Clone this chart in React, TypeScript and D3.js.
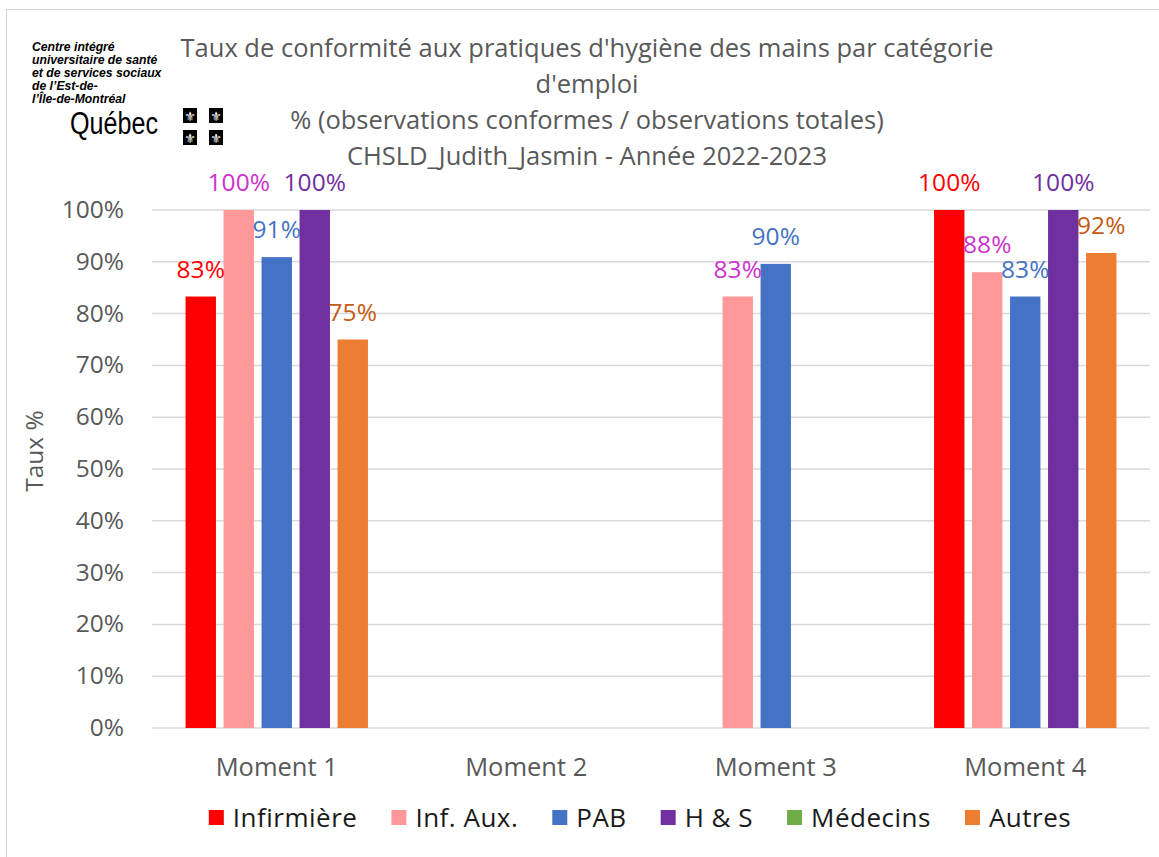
import { useRef, useEffect } from "react";
import * as d3 from "d3";

const moments = ["Moment 1", "Moment 2", "Moment 3", "Moment 4"];
const seriesNames = ["Infirmière", "Inf. Aux.", "PAB", "H & S", "Médecins", "Autres"];
const infirmiere = [83.3, null, null, 100];
const infAux = [100, null, 83.3, 88];
const pab = [90.9, null, 89.6, 83.3];
const hs = [100, null, null, 100];
const medecins = [null, null, null, null];
const autres = [75, null, null, 91.7];
const yTicks = [0, 10, 20, 30, 40, 50, 60, 70, 80, 90, 100];
const titleLines = [
  "Taux de conformité aux pratiques d'hygiène des mains par catégorie",
  "d'emploi",
  "% (observations conformes / observations totales)",
  "CHSLD_Judith_Jasmin - Année 2022-2023",
];
const logoLines = [
  "Centre intégré",
  "universitaire de santé",
  "et de services sociaux",
  "de l’Est-de-",
  "l’Île-de-Montréal",
];

const barColors = ["#ff0000", "#ff9999", "#4472c4", "#7030a0", "#70ad47", "#ed7d31"];
const labelColors = ["#ff0000", "#cc33cc", "#4472c4", "#7030a0", "#70ad47", "#c55a11"];

const width = 1159;
const height = 857;
const font = "'Open Sans', sans-serif";
const gray = "#595959";

export default function App() {
  const ref = useRef<SVGSVGElement | null>(null);

  useEffect(() => {
    const svg = d3.select(ref.current).attr("viewBox", `0 0 ${width} ${height}`);
    svg.selectAll("*").remove();

    const values = [infirmiere, infAux, pab, hs, medecins, autres];
    const series = seriesNames.map((name, i) => ({
      name,
      values: values[i],
      color: barColors[i],
      labelColor: labelColors[i],
    }));
    // Médecins has no value anywhere, so it takes no slot in the groups
    const drawn = series.filter((s) => s.values.some((v) => v != null));

    svg.append("rect").attr("width", width).attr("height", height).attr("fill", "#fff");
    svg
      .append("rect")
      .attr("x", 6.5)
      .attr("y", 9.5)
      .attr("width", width)
      .attr("height", height)
      .attr("fill", "none")
      .attr("stroke", "#d9d9d9");

    const x0 = d3.scaleBand().domain(moments).range([152, 1150]);
    const groupW = 190;
    const x1 = d3
      .scaleBand()
      .domain(drawn.map((s) => s.name))
      .range([0, groupW])
      .paddingInner(0.2)
      .paddingOuter(0.1);
    const y = d3.scaleLinear().domain([0, 100]).range([728, 210]);
    const offset = (x0.bandwidth() - groupW) / 2;

    // grid
    svg
      .append("g")
      .selectAll("line")
      .data(yTicks)
      .join("line")
      .attr("x1", 152)
      .attr("x2", 1150)
      .attr("y1", (d) => y(d))
      .attr("y2", (d) => y(d))
      .attr("stroke", "#d9d9d9")
      .attr("stroke-width", 1.5);

    svg
      .append("g")
      .selectAll("text")
      .data(yTicks)
      .join("text")
      .attr("x", 124)
      .attr("y", (d) => y(d) + 8)
      .attr("text-anchor", "end")
      .attr("font-family", font)
      .attr("font-size", 24.5)
      .attr("fill", gray)
      .text((d) => `${d}%`);

    svg
      .append("text")
      .attr("transform", "translate(43,451) rotate(-90)")
      .attr("text-anchor", "middle")
      .attr("font-family", font)
      .attr("font-size", 24.5)
      .attr("fill", gray)
      .text("Taux %");

    svg
      .append("g")
      .selectAll("text")
      .data(moments)
      .join("text")
      .attr("x", (d) => x0(d)! + x0.bandwidth() / 2)
      .attr("y", 776)
      .attr("text-anchor", "middle")
      .attr("font-family", font)
      .attr("font-size", 25.5)
      .attr("fill", gray)
      .text((d) => d);

    // bars
    const items = drawn.flatMap((s) =>
      s.values
        .map((v, i) => ({ s, v, m: moments[i] }))
        .filter((d) => d.v != null)
    );
    const gBars = svg.append("g");
    gBars
      .selectAll("rect")
      .data(items)
      .join("rect")
      .attr("x", (d) => x0(d.m)! + offset + x1(d.s.name)!)
      .attr("width", x1.bandwidth())
      .attr("y", (d) => y(d.v as number))
      .attr("height", (d) => y(0) - y(d.v as number))
      .attr("fill", (d) => d.s.color);

    gBars
      .selectAll("text")
      .data(items)
      .join("text")
      .attr("x", (d) => x0(d.m)! + offset + x1(d.s.name)! + x1.bandwidth() / 2)
      .attr("y", (d) => y(d.v as number) - 19)
      .attr("text-anchor", "middle")
      .attr("font-family", font)
      .attr("font-size", 24.5)
      .attr("fill", (d) => d.s.labelColor)
      .text((d) => `${Math.round(d.v as number)}%`);

    // title
    svg
      .append("g")
      .selectAll("text")
      .data(titleLines)
      .join("text")
      .attr("x", 587)
      .attr("y", (_, i) => 57 + i * 36)
      .attr("text-anchor", "middle")
      .attr("font-family", font)
      .attr("font-size", 25.5)
      .attr("fill", gray)
      .text((d) => d);

    // legend
    const leg = svg.append("g");
    const legItems = leg
      .selectAll("g")
      .data(series)
      .join("g");
    legItems
      .append("rect")
      .attr("y", 810)
      .attr("width", 15)
      .attr("height", 15)
      .attr("fill", (d) => d.color);
    legItems
      .append("text")
      .attr("x", 24)
      .attr("y", 827)
      .attr("font-family", font)
      .attr("font-size", 26)
      .attr("letter-spacing", 0.5)
      .attr("fill", "#1a1a1a")
      .text((d) => d.name);
    const widths: number[] = [];
    legItems.each(function () {
      const t = d3.select(this).select("text").node() as SVGTextElement;
      widths.push(24 + t.getComputedTextLength());
    });
    const gap = 34;
    const total = d3.sum(widths) + gap * (widths.length - 1);
    let cx = 640 - total / 2;
    legItems.attr("transform", (_, i) => {
      const tx = cx;
      cx += widths[i] + gap;
      return `translate(${tx},0)`;
    });

    // logo
    const logo = svg.append("g");
    logo
      .selectAll("text")
      .data(logoLines)
      .join("text")
      .attr("x", 32)
      .attr("y", (_, i) => 51 + i * 13)
      .attr("font-family", "'Liberation Sans', Arial, sans-serif")
      .attr("font-size", 12.2)
      .attr("font-weight", "bold")
      .attr("font-style", "italic")
      .attr("fill", "#000")
      .text((d) => d);
    logo
      .append("text")
      .attr("x", 70)
      .attr("y", 134)
      .attr("font-family", "'Liberation Sans', sans-serif")
      .attr("font-size", 31)
      .attr("textLength", 88)
      .attr("lengthAdjust", "spacingAndGlyphs")
      .attr("fill", "#000")
      .text("Québec");
    const flags = [
      [183, 108],
      [209, 108],
      [183, 130],
      [209, 130],
    ];
    const fg = logo
      .selectAll("g.flag")
      .data(flags)
      .join("g")
      .attr("transform", (d) => `translate(${d[0]},${d[1]})`);
    fg.append("rect").attr("width", 14).attr("height", 15).attr("fill", "#000");
    fg.append("text")
      .attr("x", 7)
      .attr("y", 12.5)
      .attr("text-anchor", "middle")
      .attr("font-family", "'DejaVu Sans', sans-serif")
      .attr("font-size", 13)
      .attr("fill", "#fff")
      .text("⚜");
  }, []);

  return (
    <svg
      ref={ref}
      width={width}
      height={height}
      style={{ position: "absolute", left: 0, top: 0, display: "block" }}
    />
  );
}
